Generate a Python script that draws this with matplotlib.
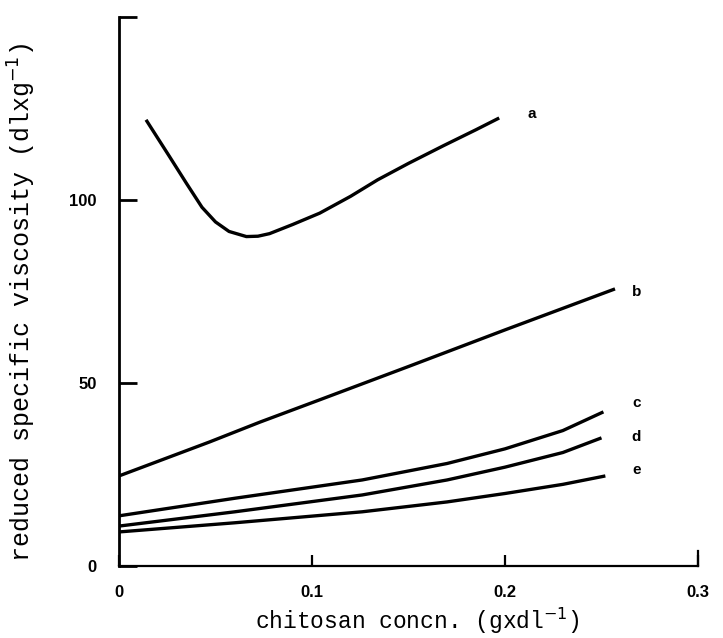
import matplotlib
matplotlib.use("Agg")
import matplotlib.pyplot as plt

# values
conc_a = [0.014, 0.026, 0.035, 0.043, 0.050, 0.057, 0.066, 0.072, 0.078, 0.090, 0.104, 0.120, 0.134, 0.150, 0.168, 0.185, 0.197]
visc_a = [121.9, 112.0, 104.5, 98.0, 94.0, 91.4, 90.0, 90.1, 90.8, 93.3, 96.4, 101.0, 105.5, 110.0, 114.8, 119.2, 122.4]

conc_b = [0.0, 0.047, 0.073, 0.104, 0.150, 0.200, 0.257]
visc_b = [24.6, 33.9, 39.3, 45.4, 54.5, 64.5, 75.7]

conc_c = [0.0, 0.060, 0.126, 0.170, 0.200, 0.230, 0.251]
visc_c = [13.7, 18.5, 23.5, 28.0, 32.0, 37.0, 42.1]

conc_d = [0.0, 0.060, 0.126, 0.170, 0.200, 0.230, 0.250]
visc_d = [10.9, 14.8, 19.4, 23.5, 27.0, 31.0, 35.0]

conc_e = [0.0, 0.060, 0.126, 0.170, 0.200, 0.230, 0.252]
visc_e = [9.3, 11.8, 14.8, 17.5, 19.8, 22.3, 24.6]

curve_names = ["a", "b", "c", "d", "e"]
label_x = [0.214, 0.268, 0.268, 0.268, 0.268]
label_y = [123.5, 74.9, 44.5, 35.2, 26.2]

x_ticks = [0, 0.1, 0.2, 0.3]
x_tick_labels = ["0", "0.1", "0.2", "0.3"]
y_ticks = [0, 50, 100, 150]
y_tick_labels = ["0", "50", "100", ""]

fig = plt.figure(figsize=(7.23, 6.38), dpi=100)
ax = fig.add_axes([0.1646, 0.1129, 0.8008, 0.8605])

for xs, ys in [(conc_a, visc_a), (conc_b, visc_b), (conc_c, visc_c), (conc_d, visc_d), (conc_e, visc_e)]:
    ax.plot(xs, ys, color="black", lw=2.4, solid_capstyle="butt", solid_joinstyle="round")

for name, lx, ly in zip(curve_names, label_x, label_y):
    ax.text(lx, ly, name, fontsize=11, fontweight="bold", ha="center", va="center",
            family="Liberation Sans", clip_on=False)

ax.set_xlim(0, 0.3)
ax.set_ylim(0, 150)
ax.spines["top"].set_visible(False)
ax.spines["right"].set_visible(False)
ax.spines["left"].set_linewidth(2)
ax.spines["bottom"].set_linewidth(1.6)

# taller end mark at 0.3 like the original
ax.axvline(0.3, ymax=0.028, color="black", lw=1.6, clip_on=False)

ax.set_xticks(x_ticks)
ax.set_xticklabels(x_tick_labels, fontweight="bold", family="Liberation Sans", fontsize=12)
ax.set_yticks(y_ticks)
ax.set_yticklabels(y_tick_labels, fontweight="bold", family="Liberation Sans", fontsize=12)
ax.tick_params(axis="x", direction="in", length=8, width=1.6, pad=14)
ax.tick_params(axis="y", direction="in", length=13, width=2, pad=16)

ax.set_xlabel("chitosan concn. (gxdl$^{-1}$)", family="Liberation Mono", fontsize=16.5)
ax.xaxis.set_label_coords(0.516, -0.073)
ax.set_ylabel("reduced specific viscosity (dlxg$^{-1}$)", family="Liberation Mono", fontsize=18)
ax.yaxis.set_label_coords(-0.14, 0.48)

fig.savefig("out.png", dpi=100, facecolor="white")
